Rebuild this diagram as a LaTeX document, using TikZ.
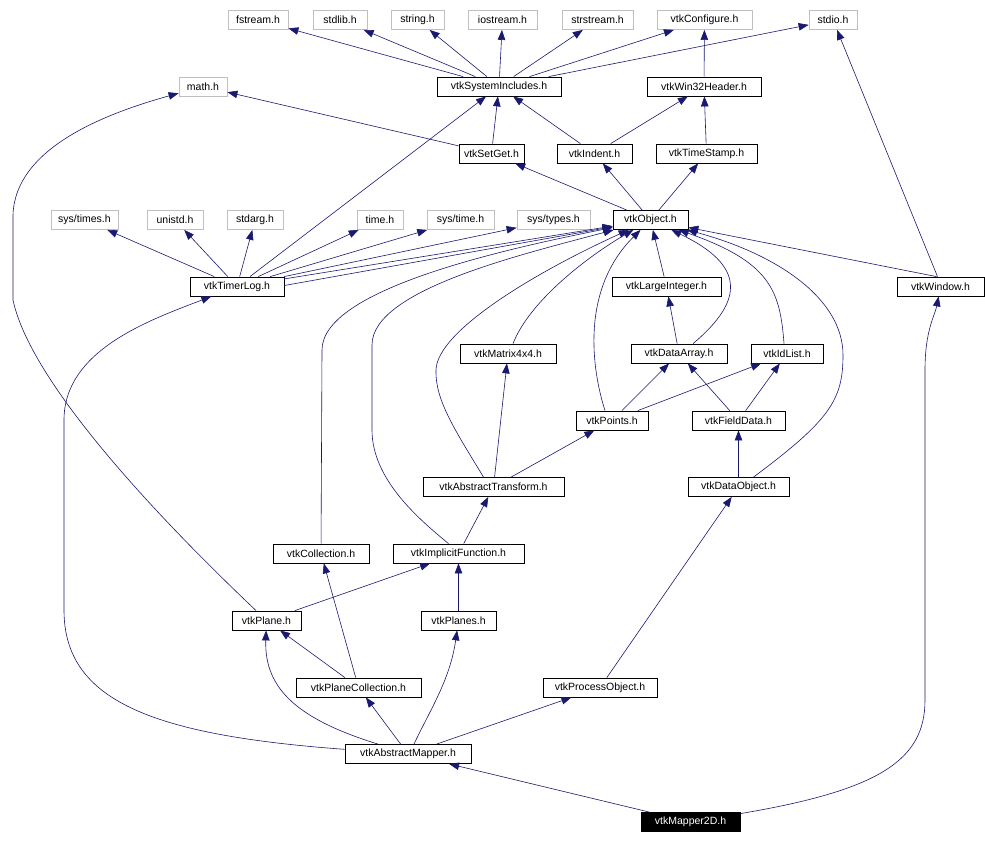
\documentclass[tikz,border=0pt]{standalone}
\usepackage{fontspec}
\setmainfont{Liberation Sans}
\usetikzlibrary{arrows.meta,positioning}
\definecolor{edgeblue}{RGB}{25,25,112}
\definecolor{sysgrey}{RGB}{191,191,191}

\begin{document}
\begin{tikzpicture}[
  x=1pt, y=-1pt,
  font=\fontsize{10.5}{12}\selectfont,
  hdr/.style={draw, rectangle, minimum height=19pt, inner sep=0pt, line width=0.8pt},
  syshdr/.style={hdr, draw=sysgrey},
  selfhdr/.style={hdr, fill=black, text=white},
  dep/.style={-{Triangle[length=10pt,width=7.5pt]}, color=edgeblue, line width=0.6pt}
]

\useasboundingbox (0,0) rectangle (985,842);

\node[syshdr, minimum width=60pt] (fstream) at (258,20) {fstream.h};
\node[syshdr, minimum width=54pt] (stdlib) at (340,20) {stdlib.h};
\node[syshdr, minimum width=53pt] (string) at (417.5,20) {string.h};
\node[syshdr, minimum width=69pt] (iostream) at (502.5,20) {iostream.h};
\node[syshdr, minimum width=71pt] (strstream) at (597.5,20) {strstream.h};
\node[syshdr, minimum width=95pt] (config) at (704.5,20) {vtkConfigure.h};
\node[syshdr, minimum width=48pt] (stdio) at (833,20) {stdio.h};

\node[syshdr, minimum width=48pt] (math) at (203,86.5) {math.h};
\node[hdr, minimum width=124pt] (sysinc) at (499,86.5) {vtkSystemIncludes.h};
\node[hdr, minimum width=114pt] (win32) at (704,86.5) {vtkWin32Header.h};

\node[hdr, minimum width=65pt] (setget) at (491.5,153.5) {vtkSetGet.h};
\node[hdr, minimum width=75pt] (indent) at (594.5,153.5) {vtkIndent.h};
\node[hdr, minimum width=101pt] (tstamp) at (706.5,153.5) {vtkTimeStamp.h};

\node[syshdr, minimum width=67pt] (systimes) at (84.5,220) {sys/times.h};
\node[syshdr, minimum width=56pt] (unistd) at (175,220) {unistd.h};
\node[syshdr, minimum width=56pt] (stdarg) at (255,220) {stdarg.h};
\node[syshdr, minimum width=46pt] (time) at (380,220) {time.h};
\node[syshdr, minimum width=67pt] (systime) at (460.5,220) {sys/time.h};
\node[syshdr, minimum width=73pt] (systypes) at (553.5,220) {sys/types.h};
\node[hdr, minimum width=75pt] (object) at (650.5,220) {vtkObject.h};

\node[hdr, minimum width=94pt] (timerlog) at (237,286.5) {vtkTimerLog.h};
\node[hdr, minimum width=109pt] (largeint) at (666.5,286.5) {vtkLargeInteger.h};
\node[hdr, minimum width=87pt] (window) at (940.5,286.5) {vtkWindow.h};

\node[hdr, minimum width=96pt] (matrix) at (508,353.5) {vtkMatrix4x4.h};
\node[hdr, minimum width=96pt] (darray) at (679,353.5) {vtkDataArray.h};
\node[hdr, minimum width=72pt] (idlist) at (787,353.5) {vtkIdList.h};

\node[hdr, minimum width=72pt] (points) at (612,420.5) {vtkPoints.h};
\node[hdr, minimum width=93pt] (fdata) at (738.5,420.5) {vtkFieldData.h};

\node[hdr, minimum width=141pt] (atrans) at (493.5,487) {vtkAbstractTransform.h};
\node[hdr, minimum width=101pt] (dobj) at (738.5,487) {vtkDataObject.h};

\node[hdr, minimum width=96pt] (coll) at (321,553.5) {vtkCollection.h};
\node[hdr, minimum width=131pt] (ifunc) at (458.5,553.5) {vtkImplicitFunction.h};

\node[hdr, minimum width=69pt] (plane) at (266.5,620.5) {vtkPlane.h};
\node[hdr, minimum width=75pt] (planes) at (458.5,620.5) {vtkPlanes.h};

\node[hdr, minimum width=125pt] (pcoll) at (358.5,687.5) {vtkPlaneCollection.h};
\node[hdr, minimum width=114pt] (pobj) at (600,687.5) {vtkProcessObject.h};

\node[hdr, minimum width=126pt] (amapper) at (408,754) {vtkAbstractMapper.h};
\node[selfhdr, minimum width=99pt] (mapper2d) at (690.5,822) {vtkMapper2D.h};

\draw[dep] (sysinc) -- (fstream);
\draw[dep] (sysinc) -- (stdlib);
\draw[dep] (sysinc) -- (string);
\draw[dep] (sysinc) -- (iostream);
\draw[dep] (sysinc) -- (strstream);
\draw[dep] (sysinc) -- (config);
\draw[dep] (sysinc) -- (stdio);
\draw[dep] (win32) -- (config);

\draw[dep] (setget) -- (math);
\draw[dep] (setget) -- (sysinc);
\draw[dep] (indent) -- (sysinc);
\draw[dep] (indent) -- (win32);
\draw[dep] (tstamp) -- (win32);

\draw[dep] (object) -- (setget);
\draw[dep] (object) -- (indent);
\draw[dep] (object) -- (tstamp);

\draw[dep] (timerlog) -- (systimes);
\draw[dep] (timerlog) -- (unistd);
\draw[dep] (timerlog) -- (stdarg);
\draw[dep] (timerlog) -- (time);
\draw[dep] (timerlog) -- (systime);
\draw[dep] (timerlog) -- (systypes);
\draw[dep] (timerlog) -- (sysinc);
\draw[dep] (timerlog) -- (object);
\draw[dep] ([yshift=1pt]timerlog.east) -- (object);

\draw[dep] (largeint) -- (object);
\draw[dep] ([xshift=-4pt]window.north) -- (object);
\draw[dep] ([xshift=-3pt]window.north) -- (stdio);

\draw[dep] (darray) -- (largeint);
\draw[dep] ([xshift=14pt]darray.north) .. controls (745,300) and (745,265) .. (object);
\draw[dep] ([xshift=-3pt]idlist.north) .. controls (780,290) and (770,262) .. (object);
\draw[dep] ([xshift=5pt]matrix.north) .. controls (530,300) and (590,255) .. (object);

\draw[dep] ([xshift=-7pt]points.north) .. controls (592,370) and (580,290) .. (object);
\draw[dep] (points) -- (darray);
\draw[dep] (points) -- (idlist);
\draw[dep] (fdata) -- (darray);
\draw[dep] (fdata) -- (idlist);

\draw[dep] ([xshift=-10pt]atrans.north) .. controls (455,430) and (435,400) .. (436,370) .. controls (437,330) and (540,270) .. (object);
\draw[dep] (atrans) -- (matrix);
\draw[dep] (atrans) -- (points);
\draw[dep] (dobj) -- (fdata);
\draw[dep] ([xshift=15pt]dobj.north) .. controls (830,420) and (843,400) .. (843,355) .. controls (843,300) and (780,255) .. (object);

\draw[dep] (coll) -- (322,350) .. controls (322,290) and (500,250) .. (object);
\draw[dep] ([xshift=-10pt]ifunc.north) .. controls (420,520) and (372,480) .. (372,430) -- (372,345) .. controls (372,290) and (520,255) .. (object);
\draw[dep] (ifunc) -- (atrans);

\draw[dep] (plane) -- (ifunc);
\draw[dep] (plane) .. controls (150,510) and (30,380) .. (13,300) -- (13,215) .. controls (15,150) and (100,115) .. (math);
\draw[dep] (planes) -- (ifunc);

\draw[dep] (pcoll) -- (coll);
\draw[dep] (pcoll) -- (plane);
\draw[dep] (pobj) -- (dobj);

\draw[dep] ([xshift=-30pt]amapper.north) .. controls (300,720) and (264,690) .. (plane);
\draw[dep] (amapper) -- (pcoll);
\draw[dep] ([xshift=6pt]amapper.north) .. controls (430,710) and (450,680) .. (planes);
\draw[dep] (amapper) -- (pobj);
\draw[dep] (amapper) .. controls (150,735) and (64,700) .. (64,610) -- (64,420) .. controls (64,350) and (150,320) .. (timerlog);

\draw[dep] (mapper2d) -- (amapper);
\draw[dep] (mapper2d) .. controls (880,790) and (925,760) .. (925,700) -- (925,370) .. controls (925,330) and (935,315) .. (window);

\end{tikzpicture}
\end{document}
